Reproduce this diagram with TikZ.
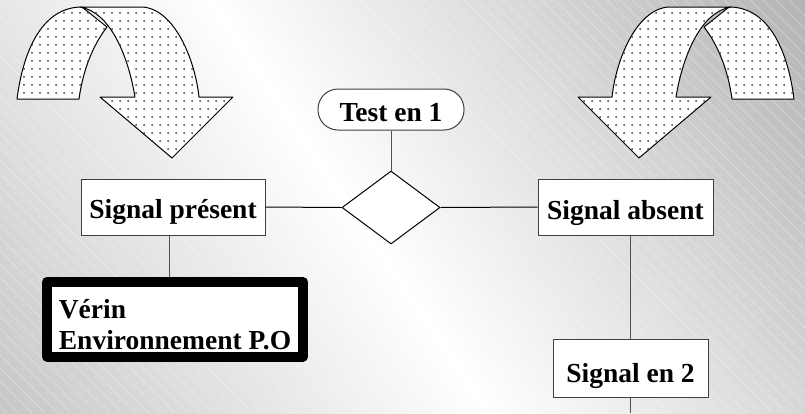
\documentclass[tikz,border=0pt]{standalone}
\usepackage{fontspec}
\setmainfont{Liberation Serif}
\usetikzlibrary{shapes.geometric,patterns.meta}
\definecolor{boxc}{HTML}{404040}
\definecolor{linec}{HTML}{505050}
\definecolor{dotc}{HTML}{3A3A3A}
\pgfdeclarehorizontalshading{bgshade}{100bp}{rgb(0bp)=(0.70,0.70,0.70); rgb(50bp)=(1,1,1); rgb(100bp)=(0.67,0.67,0.67)}
\begin{document}
\begin{tikzpicture}[x=1pt,y=-1pt,
  lbl/.style={font=\fontsize{27.5}{31}\selectfont\bfseries},
  box/.style={lbl, draw=boxc, fill=white, line width=1pt, inner xsep=0pt, inner ysep=0pt, align=center},
  conn/.style={draw=linec, line width=1pt},
  hconn/.style={draw=black, line width=1pt},
  uband/.style={draw=black, line width=1pt, line join=round, fill=white,
    postaction={pattern={Dots[distance=8pt,radius=1pt]}, pattern color=dotc}}]
\useasboundingbox (0,0) rectangle (805,413);
% background
\begin{scope}
\clip (0,0) rectangle (805,413);
\begin{scope}[transform canvas={shift={(355,215)}, rotate=34, scale=11}]
\node[inner sep=0pt] (bg) at (0,0) {\pgfuseshading{bgshade}};
\end{scope}
\foreach \i in {-420,-407,...,800} \draw[white, opacity=0.4, line width=0.5pt] (\i,0) -- ++(413,413);
\end{scope}
% U-turn arrows
\begin{scope}
\path[uband] (17,99) .. controls (24,45) and (45,7) .. (82,7) -- (107,27) .. controls (93,45) and (83,70) .. (79,99) -- cycle;
\path[uband] (80,7) -- (143,7) .. controls (175,10) and (195,60) .. (199,97) -- (233,97) -- (172,158) -- (100,97) -- (135,97) .. controls (128,55) and (110,12) .. (80,7) -- cycle;
\end{scope}
\begin{scope}[shift={(811,0)}, xscale=-1]
\path[uband] (17,99) .. controls (24,45) and (45,7) .. (82,7) -- (107,27) .. controls (93,45) and (83,70) .. (79,99) -- cycle;
\path[uband] (80,7) -- (143,7) .. controls (175,10) and (195,60) .. (199,97) -- (233,97) -- (172,158) -- (100,97) -- (135,97) .. controls (128,55) and (110,12) .. (80,7) -- cycle;
\end{scope}
% nodes
\node[box, rounded corners=20pt, minimum width=146pt, text height=32pt, text depth=9pt] (test) at (391,109.5) {Test en 1};
\node[box, minimum width=184pt, text height=39.5pt, text depth=16.5pt] (sp) at (173,207) {Signal présent};
\node[box, minimum width=175pt, text height=40pt, text depth=16pt] (sa) at (625.5,207) {Signal absent};
\node[box, minimum width=155pt, text height=43pt, text depth=15pt] (s2) at (630.5,368) {Signal en 2};
\node[draw=black, fill=white, diamond, inner sep=0pt, minimum width=98pt, minimum height=73pt, line width=1pt] (dia) at (391,207.5) {};
\node[lbl, draw=black, fill=white, line width=10pt, line join=round, align=left, inner xsep=0pt, inner ysep=0pt, minimum width=256pt, text height=67pt, text depth=7.5pt] (verin) at (175,319.25) {Vérin\\Environnement P.O};
\coordinate (bottomend) at (630.5,413);
% connectors
\draw[conn] (test.south) -- (dia.north);
\draw[hconn] (dia.west) -- (sp.east);
\draw[hconn] (dia.east) -- (sa.west);
\draw[conn] ([xshift=-4pt]sp.south) -- ([xshift=-4pt]sp.south |- verin.north);
\draw[conn] (s2.north |- sa.south) -- (s2.north);
\draw[conn] (s2.south) -- (bottomend);
\end{tikzpicture}
\end{document}
